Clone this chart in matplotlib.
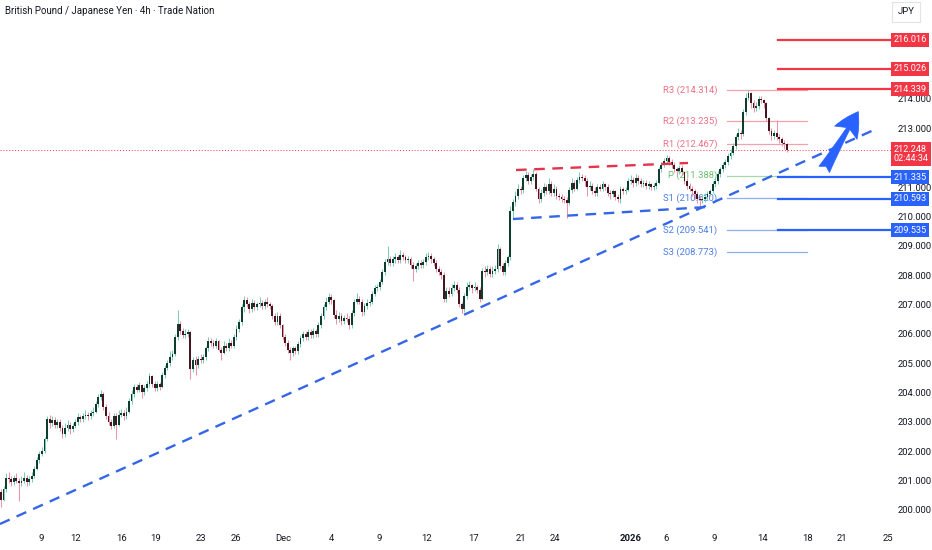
import matplotlib.pyplot as plt
import matplotlib.transforms as mtransforms
import numpy as np

plt.rcParams['font.family'] = ['Roboto', 'DejaVu Sans']

# ---- data (4h bars, GBP/JPY) ----
first_open = 200.6
closes = [
    200.35, 200.7, 201.1, 201.05, 200.95, 201.1, 201.0, 200.9, 201.0, 201.1,
    200.95, 201.05, 201.15, 201.4, 201.7, 201.9, 202.0, 202.4, 203.1, 202.95,
    203.05, 202.9, 203.0, 202.8, 202.6, 202.8, 202.9, 202.75, 202.85, 203.0,
    203.15, 203.1, 203.2, 203.25, 203.2, 203.3, 203.35, 203.6, 203.85, 203.95,
    203.5, 203.2, 203.0, 202.85, 203.2, 202.9, 203.25, 203.3, 203.2, 203.35,
    203.7, 203.95, 204.2, 204.1, 204.25, 204.0, 204.15, 204.3, 204.55, 204.3,
    204.15, 204.3, 204.2, 204.6, 204.85, 205.0, 205.2, 205.3, 205.9, 206.35,
    206.1, 205.95, 206.0, 206.05, 204.8, 205.1, 204.95, 205.15, 205.1, 205.2,
    205.5, 205.75, 205.7, 205.6, 205.75, 205.45, 205.35, 205.6, 205.5, 205.7,
    205.6, 205.9, 206.15, 206.4, 206.9, 207.15, 207.0, 206.85, 207.05, 206.9,
    207.0, 207.05, 206.95, 207.1, 207.0, 206.95, 206.6, 206.4, 206.6, 206.3,
    205.9, 205.7, 205.45, 205.35, 205.5, 205.4, 205.65, 205.85, 206.0, 205.9,
    206.05, 205.95, 206.1, 206.0, 206.3, 206.6, 206.9, 207.1, 207.25, 207.15,
    206.65, 206.5, 206.6, 206.45, 206.55, 206.5, 206.3, 206.7, 207.1, 207.2,
    207.1, 206.75, 206.95, 207.05, 207.1, 207.35, 207.55, 207.6, 207.75, 208.1,
    208.45, 208.55, 208.4, 208.55, 208.6, 208.5, 208.7, 208.6, 208.5, 208.55,
    208.35, 208.2, 208.3, 208.4, 208.35, 208.45, 208.6, 208.65, 208.55, 208.4,
    208.2, 208.1, 208.0, 207.2, 207.45, 207.35, 207.55, 207.65, 207.5, 207.0,
    206.85, 207.3, 207.6, 207.65, 207.55, 207.6, 207.5, 207.2, 208.15, 208.1,
    208.2, 208.05, 208.15, 208.2, 208.9, 208.3, 208.1, 208.4, 208.6, 210.2,
    210.5, 210.7, 210.95, 210.9, 211.3, 211.4, 211.2, 211.35, 211.45, 210.95,
    210.6, 210.8, 211.0, 210.85, 211.1, 210.8, 210.95, 210.7, 210.65, 210.6,
    210.55, 210.45, 210.9, 211.15, 210.95, 211.25, 211.35, 211.3, 211.2, 211.0,
    211.05, 210.85, 210.8, 211.0, 210.95, 211.1, 211.0, 210.8, 210.75, 210.85,
    210.65, 210.6, 210.95, 210.85, 210.9, 211.2, 211.25, 211.15, 211.3, 211.2,
    211.1, 211.15, 211.05, 211.1, 211.0, 211.05, 211.15, 211.6, 211.75, 211.9,
    212.0, 211.85, 211.75, 211.6, 211.55, 211.65, 211.5, 211.2, 211.05, 210.95,
    210.85, 210.75, 210.6, 210.55, 210.6, 210.65, 210.75, 210.85, 211.1, 211.2,
    211.45, 211.6, 211.75, 211.85, 212.05, 212.15, 212.4, 212.7, 212.85, 212.8,
    213.55, 214.05, 214.2, 213.85, 213.7, 213.75, 214.0, 213.95, 213.85, 213.35,
    212.9, 212.75, 212.85, 212.7, 212.65, 212.5, 212.45, 212.248,
]
highs = [
    200.7, 200.8, 201.25, 201.3, 201.15, 201.2, 201.25, 201.1, 201.15, 201.3,
    201.2, 201.15, 201.3, 201.5, 201.8, 202.0, 202.15, 202.5, 203.2, 203.25,
    203.2, 203.15, 203.1, 203.1, 202.9, 202.95, 203.05, 203.0, 202.95, 203.1,
    203.3, 203.25, 203.3, 203.4, 203.35, 203.4, 203.5, 203.7, 203.95, 204.1,
    204.0, 203.6, 203.35, 203.1, 203.3, 203.3, 203.4, 203.45, 203.4, 203.5,
    203.8, 204.1, 204.3, 204.3, 204.35, 204.3, 204.25, 204.4, 204.65, 204.6,
    204.4, 204.4, 204.35, 204.7, 204.95, 205.1, 205.4, 205.45, 206.0, 206.8,
    206.45, 206.2, 206.15, 206.15, 206.1, 205.2, 205.25, 205.25, 205.3, 205.3,
    205.6, 205.9, 205.85, 205.8, 205.85, 205.8, 205.55, 205.75, 205.7, 205.85,
    205.8, 206.0, 206.3, 206.5, 207.0, 207.3, 207.25, 207.1, 207.2, 207.15,
    207.1, 207.25, 207.15, 207.2, 207.25, 207.1, 207.0, 206.7, 206.75, 206.7,
    206.35, 206.0, 205.8, 205.55, 205.6, 205.6, 205.75, 205.95, 206.1, 206.1,
    206.15, 206.15, 206.2, 206.15, 206.4, 206.7, 207.0, 207.25, 207.4, 207.35,
    207.2, 206.8, 206.75, 206.7, 206.65, 206.7, 206.6, 206.8, 207.2, 207.4,
    207.3, 207.2, 207.05, 207.2, 207.2, 207.45, 207.65, 207.7, 207.85, 208.2,
    208.55, 209.0, 208.65, 208.65, 208.75, 208.7, 208.85, 208.8, 208.7, 208.65,
    208.6, 208.45, 208.4, 208.5, 208.5, 208.55, 208.75, 208.8, 208.75, 208.6,
    208.5, 208.3, 208.2, 208.1, 207.6, 207.6, 207.7, 207.8, 207.75, 207.6,
    207.1, 207.4, 207.75, 207.8, 207.7, 207.75, 207.65, 207.6, 208.25, 208.3,
    208.35, 208.3, 208.3, 208.35, 209.05, 208.95, 208.4, 208.5, 208.7, 210.35,
    210.6, 210.85, 211.1, 211.05, 211.4, 211.55, 211.5, 211.45, 211.6, 211.5,
    211.0, 210.95, 211.15, 211.1, 211.3, 211.2, 211.1, 211.05, 210.8, 210.75,
    210.7, 210.65, 211.0, 211.3, 211.25, 211.35, 211.5, 211.45, 211.4, 211.3,
    211.2, 211.15, 211.0, 211.1, 211.1, 211.2, 211.15, 211.1, 210.9, 210.95,
    210.9, 210.75, 211.05, 211.0, 211.0, 211.3, 211.4, 211.35, 211.45, 211.4,
    211.3, 211.25, 211.25, 211.2, 211.15, 211.15, 211.25, 211.7, 211.85, 212.0,
    212.1, 212.05, 211.95, 211.85, 211.7, 211.75, 211.75, 211.55, 211.3, 211.15,
    211.05, 210.95, 210.85, 210.7, 210.75, 210.8, 210.85, 210.95, 211.2, 211.35,
    211.55, 211.7, 211.85, 211.95, 212.15, 212.3, 212.5, 212.8, 213.0, 212.95,
    213.65, 214.2, 214.32, 214.25, 213.95, 213.9, 214.1, 214.1, 214.0, 213.9,
    213.4, 213.0, 212.95, 213.3, 212.8, 212.7, 212.6, 212.5,
]
lows = [
    200.1, 200.3, 200.6, 200.9, 200.8, 200.85, 200.9, 200.3, 200.8, 200.9,
    200.8, 200.85, 200.95, 201.1, 201.35, 201.6, 201.85, 201.95, 202.35, 202.8,
    202.85, 202.8, 202.8, 202.7, 202.45, 202.5, 202.7, 202.6, 202.65, 202.8,
    202.9, 203.0, 203.0, 203.1, 203.05, 203.1, 203.2, 203.3, 203.5, 203.75,
    203.4, 203.1, 202.9, 202.75, 202.8, 202.4, 202.85, 203.15, 203.05, 203.1,
    203.3, 203.6, 203.85, 204.0, 204.0, 203.8, 203.9, 204.05, 204.2, 204.2,
    204.05, 204.05, 204.1, 204.15, 204.5, 204.75, 204.9, 205.1, 205.25, 205.8,
    206.0, 205.85, 205.85, 205.9, 204.45, 204.7, 204.6, 204.85, 205.0, 205.0,
    205.1, 205.4, 205.6, 205.5, 205.5, 205.4, 205.1, 205.3, 205.4, 205.4,
    205.5, 205.5, 205.8, 206.05, 206.3, 206.75, 206.9, 206.7, 206.75, 206.8,
    206.8, 206.9, 206.85, 206.85, 206.9, 206.85, 206.5, 206.3, 206.3, 206.2,
    205.8, 205.6, 205.35, 205.1, 205.25, 205.3, 205.3, 205.55, 205.75, 205.8,
    205.8, 205.85, 205.85, 205.9, 205.9, 206.2, 206.5, 206.8, 207.0, 207.0,
    206.55, 206.35, 206.4, 206.3, 206.35, 206.4, 206.15, 206.2, 206.6, 207.0,
    207.0, 206.6, 206.65, 206.85, 206.95, 207.0, 207.3, 207.45, 207.5, 207.7,
    208.0, 208.35, 208.3, 208.3, 208.4, 208.4, 208.4, 208.5, 208.4, 208.4,
    208.25, 207.8, 208.1, 208.2, 208.25, 208.25, 208.35, 208.5, 208.4, 208.3,
    208.1, 208.0, 207.85, 207.1, 207.1, 207.25, 207.3, 207.45, 207.4, 206.9,
    206.7, 206.75, 207.2, 207.5, 207.4, 207.45, 207.4, 207.1, 207.15, 207.95,
    208.0, 207.95, 207.95, 208.05, 208.1, 208.2, 208.0, 208.0, 208.3, 208.5,
    209.9, 210.35, 210.6, 210.75, 210.8, 211.2, 211.1, 211.1, 211.25, 210.85,
    210.45, 210.5, 210.7, 210.75, 210.75, 210.7, 210.7, 210.6, 210.55, 210.5,
    210.45, 209.95, 210.4, 210.8, 210.85, 210.9, 211.15, 211.2, 211.05, 210.7,
    210.9, 210.75, 210.7, 210.7, 210.85, 210.85, 210.9, 210.7, 210.6, 210.65,
    210.55, 210.5, 210.45, 210.75, 210.75, 210.85, 211.1, 211.0, 211.05, 211.1,
    211.0, 211.0, 210.95, 210.95, 210.9, 210.9, 210.95, 211.1, 211.5, 211.7,
    211.8, 211.75, 211.65, 211.5, 211.4, 211.45, 211.4, 211.1, 210.95, 210.85,
    210.7, 210.6, 210.45, 210.3, 210.45, 210.5, 210.55, 210.7, 210.8, 211.0,
    211.1, 211.35, 211.5, 211.65, 211.75, 211.95, 212.1, 212.3, 212.6, 212.65,
    212.75, 213.45, 213.95, 213.7, 213.55, 213.6, 213.65, 213.85, 213.7, 213.25,
    212.8, 212.6, 212.65, 212.6, 212.5, 212.4, 212.3, 212.2,
]

# date labels of the time axis, placed at bar positions
date_labels = ['9', '12', '16', '19', '23', '26', 'Dec', '4', '9', '12', '17',
               '21', '24', '2026', '6', '9', '14', '18', '21', '25']
date_pos = [15.6, 29.3, 47.3, 60.5, 78.1, 91.8, 110.2, 128.9, 147.7, 166.4,
            184.8, 203.1, 216.4, 246.1, 259.8, 278.5, 297.7, 315.2, 328.5, 346.5]

price_ticks = [200, 201, 202, 203, 204, 205, 206, 207, 208, 209, 210, 211, 213, 214]

# pivot levels (thin lines with labels)
pivot_names = ['R3', 'R2', 'R1', 'P', 'S1', 'S2', 'S3']
pivot_values = [214.314, 213.235, 212.467, 211.388, 210.620, 209.541, 208.773]

# drawn horizontal levels with price badges
res_levels = [216.016, 215.026, 214.339]
sup_levels = [211.335, 210.593, 209.535]
last_price = 212.248
countdown = '02:44:34'

# trend lines: (bar, price) endpoints
trend_long = [(-0.4, 199.52), (341.4, 212.96)]
trend_low = [(200.0, 209.91), (275.8, 210.32)]
trend_high = [(201.2, 211.58), (268.4, 211.82)]
arrow_from = (321.6, 211.6)
arrow_to = (334.9, 213.57)

RED = '#f23645'
BLUE = '#2962ff'
TXT = '#131722'

fig = plt.figure(figsize=(9.32, 5.5), dpi=100)
ax = fig.add_axes([0, 22 / 550, 891 / 932, 528 / 550])
ax.set_xlim(-0.39, 347.7)
ax.set_ylim(199.383, 217.373)
for s in ax.spines.values():
    s.set_visible(False)

# candles
n = len(closes)
idx = np.arange(n)
opens = np.array([first_open] + closes[:-1])
c = np.array(closes)
up = c >= opens
wick_col = np.where(up, '#7ccdb5', '#f093a8')
body_col = np.where(up, '#0e3c2f', '#46161f')
ax.vlines(idx, lows, highs, colors=wick_col, lw=0.75, zorder=3)
bottoms = np.minimum(opens, c)
heights = np.maximum(np.abs(c - opens), 0.035)
ax.bar(idx, heights, bottom=bottoms, width=0.72, color=body_col, lw=0, zorder=4)

# pivot lines + labels
piv_x0, piv_x1 = 283.6, 314.8
for name, val in zip(pivot_names, pivot_values):
    if name.startswith('R'):
        lc, tc = '#f4a0ad', '#ec6f86'
    elif name == 'P':
        lc, tc = '#a8d8a9', '#6cbf6f'
    else:
        lc, tc = '#8fb0f0', '#4d7fe3'
    ax.plot([piv_x0, piv_x1], [val, val], color=lc, lw=0.9, zorder=2)
    ax.text(piv_x0 - 3.8, val, f'{name} ({val:.3f})', color=tc, fontsize=6.8,
            ha='right', va='center', zorder=1)

# trend lines
for pts, col in [(trend_long, '#3566e8'), (trend_low, '#3566e8'), (trend_high, '#e4334b')]:
    (x0, y0), (x1, y1) = pts
    ax.plot([x0, x1], [y0, y1], color=col, lw=1.7, dashes=(4.5, 3.2), zorder=5,
            solid_capstyle='butt', dash_capstyle='butt')

# level lines with badges
lvl_x0 = 303.5
bt = mtransforms.blended_transform_factory(ax.transAxes, ax.transData)
for v in res_levels:
    ax.plot([lvl_x0, 347.7], [v, v], color=RED, lw=1.6, zorder=5)
    ax.text(1.0025, v, f'{v:.3f}', transform=bt, color='white', fontsize=6.6,
            ha='left', va='center', zorder=10, clip_on=False,
            bbox=dict(boxstyle='square,pad=0.28', fc=RED, ec='none'))
for v in sup_levels:
    ax.plot([lvl_x0, 347.7], [v, v], color=BLUE, lw=1.6, zorder=5)
    ax.text(1.0025, v, f'{v:.3f}', transform=bt, color='white', fontsize=6.6,
            ha='left', va='center', zorder=10, clip_on=False,
            bbox=dict(boxstyle='square,pad=0.28', fc=BLUE, ec='none'))

# last price line and badge
ax.axhline(last_price, color=RED, lw=0.7, ls=(0, (1, 2)), zorder=2)
ax.text(1.0025, last_price + 0.2, f'{last_price:.3f}\n{countdown}', transform=bt,
        color='white', fontsize=6.6, ha='left', va='top', linespacing=1.1,
        zorder=10, clip_on=False,
        bbox=dict(boxstyle='square,pad=0.28', fc=RED, ec='none'))

# arrow
ax.annotate('', xy=arrow_to, xytext=arrow_from, zorder=6,
            arrowprops=dict(arrowstyle='fancy,head_length=0.8,head_width=0.85,tail_width=0.4',
                            mutation_scale=22, fc=BLUE, ec=BLUE, lw=0.5,
                            shrinkA=0, shrinkB=0))

# axes ticks
ax.yaxis.tick_right()
ax.set_yticks(price_ticks)
ax.set_yticklabels([f'{p:.3f}' for p in price_ticks])
ax.tick_params(axis='y', length=0, pad=5, labelsize=6.8, labelcolor=TXT)
ax.set_xticks(date_pos)
ax.set_xticklabels(date_labels)
ax.tick_params(axis='x', length=0, pad=4, labelsize=6.8, labelcolor=TXT)
for lab in ax.get_xticklabels():
    if lab.get_text() == '2026':
        lab.set_fontweight('bold')

# header texts
fig.text(5 / 932, 1 - 11 / 550, 'British Pound / Japanese Yen · 4h · Trade Nation',
         fontsize=7, color=TXT, ha='left', va='center')
fig.text(906 / 932, 1 - 12 / 550, 'JPY', fontsize=6.8, color=TXT, ha='center', va='center',
         bbox=dict(boxstyle='square,pad=0.6', fc='white', ec='#e0e3eb', lw=0.8))

fig.savefig('out.png', dpi=100)
